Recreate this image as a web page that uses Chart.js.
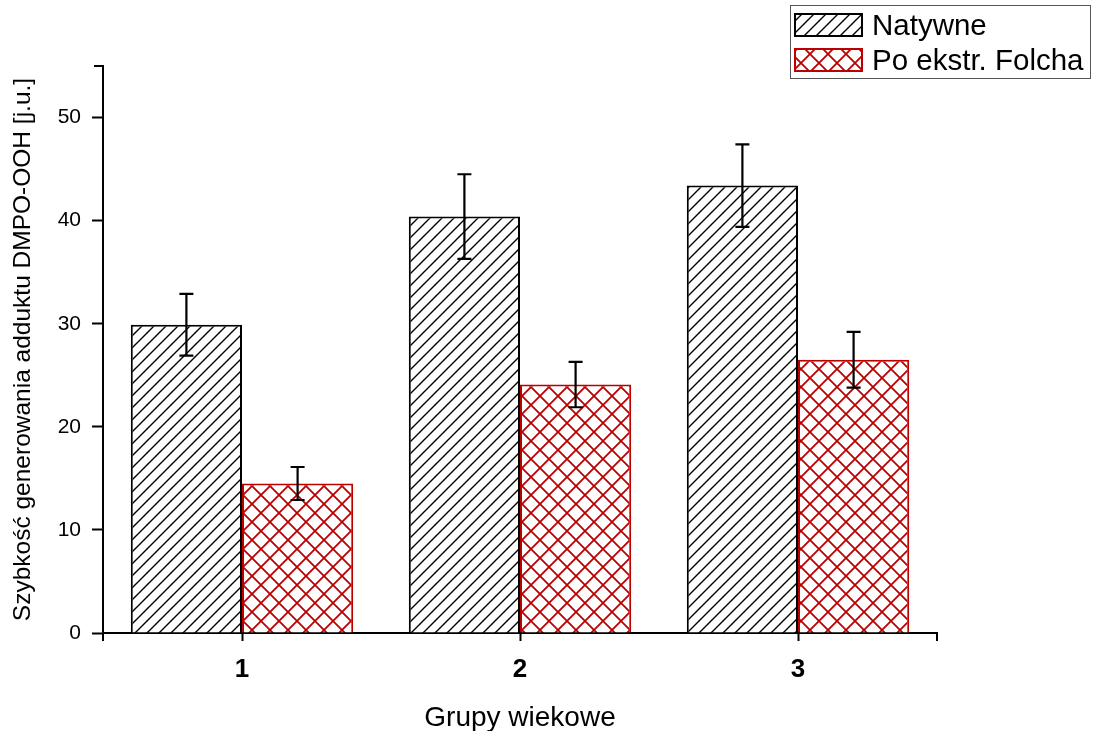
<!DOCTYPE html>
<html>
<head>
<meta charset="utf-8">
<script src="https://cdn.jsdelivr.net/npm/chart.js@4/dist/chart.umd.min.js"></script>
<style>
html,body{margin:0;padding:0;background:#fff}
#wrap{width:1093px;height:731px}
</style>
</head>
<body>
<div id="wrap"><canvas id="c" width="1093" height="731"></canvas></div>
<script>
// dane
const groups=['1','2','3'];
const native=[29.9,40.4,43.4];
const nativeErr=[3.0,4.1,4.0];
const folch=[14.5,24.1,26.5];
const folchErr=[1.6,2.2,2.7];
const yTicks=[0,10,20,30,40,50];

const FONT='"Liberation Sans", Arial, sans-serif';
const RED='#bb0000';

function hatch(){
  const s=12,c=document.createElement('canvas');c.width=s;c.height=s;
  const g=c.getContext('2d');g.fillStyle='#fff';g.fillRect(0,0,s,s);
  g.strokeStyle='#000';g.lineWidth=1.4;
  g.beginPath();
  g.moveTo(-2,s+2);g.lineTo(s+2,-2);
  g.moveTo(-2,2);g.lineTo(2,-2);
  g.moveTo(s-2,s+2);g.lineTo(s+2,s-2);
  g.stroke();
  return g.createPattern(c,'repeat');
}
function cross(){
  const s=18,c=document.createElement('canvas');c.width=s;c.height=s;
  const g=c.getContext('2d');g.fillStyle='#fff';g.fillRect(0,0,s,s);
  g.strokeStyle=RED;g.lineWidth=1.8;
  g.beginPath();
  g.moveTo(-2,s+2);g.lineTo(s+2,-2);
  g.moveTo(-2,-2);g.lineTo(s+2,s+2);
  g.stroke();
  return g.createPattern(c,'repeat');
}

const errBars={
  id:'errBars',
  afterDatasetsDraw(chart){
    const {ctx,scales:{y}}=chart;
    ctx.save();ctx.strokeStyle='#000';ctx.lineWidth=2.2;
    chart.data.datasets.forEach((ds,i)=>{
      chart.getDatasetMeta(i).data.forEach((bar,j)=>{
        const v=ds.data[j],e=ds.err[j];
        const t=y.getPixelForValue(v+e),b=y.getPixelForValue(v-e);
        ctx.beginPath();
        ctx.moveTo(bar.x,t);ctx.lineTo(bar.x,b);
        ctx.moveTo(bar.x-7,t);ctx.lineTo(bar.x+7,t);
        ctx.moveTo(bar.x-7,b);ctx.lineTo(bar.x+7,b);
        ctx.stroke();
      });
    });
    ctx.restore();
  }
};

const axisCaps={
  id:'axisCaps',
  afterDraw(chart){
    const {ctx,scales:{x,y}}=chart;
    ctx.save();ctx.strokeStyle='#000';ctx.lineWidth=2;
    ctx.beginPath();
    ctx.moveTo(x.left,x.top);ctx.lineTo(x.left,x.top+8);
    ctx.moveTo(x.right,x.top-1);ctx.lineTo(x.right,x.top+8);
    ctx.moveTo(y.right-9,y.top);ctx.lineTo(y.right+1,y.top);
    ctx.stroke();
    ctx.restore();
  }
};

const boxLegend={
  id:'boxLegend',
  afterDraw(chart){
    const ctx=chart.ctx;
    ctx.save();
    ctx.strokeStyle='#555';ctx.lineWidth=1;
    ctx.strokeRect(790.5,5.5,300,73);
    ctx.font='29.5px '+FONT;ctx.textBaseline='middle';ctx.fillStyle='#000';
    chart.data.datasets.forEach((ds,i)=>{
      const top=13+i*35;
      ctx.fillStyle=ds.backgroundColor;ctx.fillRect(794,top,69,24);
      ctx.strokeStyle=ds.borderColor;ctx.lineWidth=2;ctx.strokeRect(795,top+1,67,22);
      ctx.fillStyle='#000';ctx.fillText(ds.label,872,top+14);
    });
    ctx.restore();
  }
};

new Chart(document.getElementById('c'),{
  type:'bar',
  data:{labels:groups,datasets:[
    {label:'Natywne',data:native,err:nativeErr,backgroundColor:hatch(),borderColor:'#000',borderWidth:2},
    {label:'Po ekstr. Folcha',data:folch,err:folchErr,backgroundColor:cross(),borderColor:RED,borderWidth:2},
  ]},
  options:{
    responsive:false,animation:false,
    categoryPercentage:0.8,barPercentage:1,
    layout:{padding:{left:0,top:66,right:156,bottom:0}},
    plugins:{legend:{display:false},tooltip:{enabled:false}},
    scales:{
      x:{
        grid:{display:true,offset:false,drawOnChartArea:false,tickLength:8,tickWidth:2,tickColor:'#000'},
        border:{color:'#000',width:2},
        ticks:{color:'#000',padding:13,font:{family:FONT,size:26,weight:'bold'}},
        title:{display:true,text:'Grupy wiekowe',color:'#000',font:{family:FONT,size:28},padding:{top:0,bottom:-4}},
        afterFit(s){s.height=98;}
      },
      y:{
        min:0,max:55,
        afterBuildTicks(s){s.ticks=yTicks.map(v=>({value:v}));},
        grid:{drawOnChartArea:false,tickLength:11,tickWidth:2,tickColor:'#000'},
        border:{color:'#000',width:2},
        ticks:{color:'#000',padding:11,font:{family:FONT,size:21}},
        title:{display:true,text:'Szybkość generowania adduktu DMPO-OOH [j.u.]',color:'#000',font:{family:FONT,size:24.5},padding:{top:9,bottom:0}},
        afterFit(s){s.width=103;}
      }
    }
  },
  plugins:[errBars,axisCaps,boxLegend]
});
</script>
</body>
</html>
